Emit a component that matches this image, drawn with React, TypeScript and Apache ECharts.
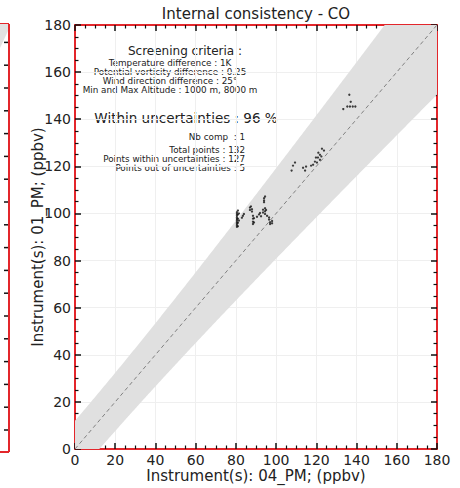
import React, { useEffect, useRef } from "react";
import * as echarts from "echarts";

const FONT = "DejaVu Sans";

// Axis settings
const AXIS_MIN = 0;
const AXIS_MAX = 180;
const AXIS_INTERVAL = 20;

// Uncertainty envelope: y = x ± sqrt(BAND_ABS² + (BAND_REL·x)²)
const BAND_REL = 0.15;
const BAND_ABS = 12;

// Scatter points: x = Instrument 04_PM, y = Instrument 01_PM (ppbv)
const pointsX: number[] = [
  80.5, 80.5, 80.5, 80.5, 80.5, 80.5, 80.5, 80.5, 80.5, 80.5,
  81.0, 81.0, 81.0, 81.0, 81.0, 81.5, 81.5,
  83.0, 83.5, 84.0,
  87.0, 87.0, 87.5, 88.0, 88.0,
  88.5, 88.5, 88.5, 88.5, 89.0, 89.0,
  90.5, 91.5, 92.0, 92.5,
  93.5, 93.5, 94.5, 94.5, 94.5, 95.0, 95.5,
  94.0, 94.0, 94.0, 94.5,
  96.5, 96.5, 97.0, 97.0, 98.0, 98.0,
  107.7, 108.4, 109.4, 113.4, 114.4, 114.9, 117.4, 118.4, 119.3, 120.3,
  119.8, 120.8, 121.8, 121.8, 122.8, 123.8, 121.0, 122.5,
  133.4, 135.4, 136.7, 138.1, 139.4, 137.1, 136.4,
];
const pointsY: number[] = [
  100.5, 99.8, 99.0, 98.3, 97.6, 97.0, 96.3, 95.6, 95.0, 94.3,
  101.2, 99.5, 97.8, 96.0, 94.6, 100.0, 97.0,
  98.2, 99.0, 99.8,
  102.5, 101.5, 103.0, 101.8, 100.8,
  99.0, 97.8, 96.5, 95.5, 98.0, 96.2,
  98.6, 99.6, 100.2, 98.8,
  101.6, 100.4, 102.2, 100.9, 99.8, 101.5, 99.0,
  106.5, 105.5, 104.8, 107.2,
  98.3, 97.4, 96.3, 95.5, 96.8, 95.8,
  118.2, 120.3, 121.6, 119.4, 118.2, 119.9, 120.3, 120.7, 122.0, 121.6,
  123.7, 123.7, 122.8, 124.9, 127.5, 126.7, 125.8, 124.2,
  144.3, 145.4, 145.4, 145.4, 145.4, 147.4, 150.4,
];

const TITLE = "Internal consistency - CO";
const X_NAME = "Instrument(s): 04_PM; (ppbv)";
const Y_NAME = "Instrument(s): 01_PM; (ppbv)";

const criteriaTitle = "Screening criteria :";
const criteriaLines = [
  "Temperature difference : 1K",
  "Potential vorticity difference : 0.25",
  "Wind direction difference : 25°",
  "Min and Max Altitude : 1000 m, 8000 m",
];
const summaryHeadline = "Within uncertainties : 96 %";
const nbCompLine = "Nb comp  : 1";
const summaryLines = [
  "Total points : 132",
  "Points within uncertainties : 127",
  "Points out of uncertainties : 5",
];

const RED = "#e3262b";
const TICK = "#111111";

function makeAxis(pos: string, withLabels: boolean, extra: any = {}) {
  return {
    type: "value",
    min: AXIS_MIN,
    max: AXIS_MAX,
    interval: AXIS_INTERVAL,
    position: pos,
    axisLine: { show: true, onZero: false, lineStyle: { color: RED, width: 2 } },
    axisTick: { show: true, inside: true, length: 6, lineStyle: { color: TICK, width: 1.5 } },
    minorTick: { show: true, splitNumber: 4, length: 3.5, lineStyle: { color: TICK, width: 1.2 } },
    axisLabel: withLabels
      ? { show: true, color: "#222", fontSize: 14, fontFamily: FONT, margin: 4 }
      : { show: false },
    splitLine: withLabels ? { show: true, lineStyle: { color: "#efefef", width: 1 } } : { show: false },
    ...extra,
  };
}

export default function App() {
  const ref = useRef<HTMLDivElement>(null);

  useEffect(() => {
    if (!ref.current) return;
    const chart = echarts.init(ref.current, undefined, { renderer: "svg" });

    const halfWidth = (x: number) => Math.sqrt(BAND_ABS * BAND_ABS + (BAND_REL * x) ** 2);
    const clampY = (y: number) => Math.max(AXIS_MIN, Math.min(AXIS_MAX, y));
    const upper: number[][] = [];
    const lower: number[][] = [];
    for (let x = AXIS_MIN; x <= AXIS_MAX; x += 0.5) {
      upper.push([x, clampY(x + halfWidth(x))]);
      lower.push([x, clampY(x - halfWidth(x))]);
    }
    const bandPolygon = [...upper, ...lower.reverse()];

    const scatterData = pointsX.map((x, i) => [x, pointsY[i]]);

    const textStyle = (size: number, align = "center") => ({
      fill: "#222",
      fontSize: size,
      fontFamily: FONT,
      textAlign: align,
      textVerticalAlign: "middle",
    });

    const LINE_STEP = 9;
    const graphics: any[] = [
      { type: "text", x: 256, y: 14, style: { text: TITLE, ...textStyle(15) } },
      { type: "text", x: 185, y: 51, style: { text: criteriaTitle, ...textStyle(12) } },
      ...criteriaLines.map((t, i) => ({
        type: "text",
        x: 170,
        y: 63 + i * LINE_STEP,
        style: { text: t, ...textStyle(8.8) },
      })),
      { type: "text", x: 186, y: 118, style: { text: summaryHeadline, ...textStyle(13.5) } },
      { type: "text", x: 245, y: 137, style: { text: nbCompLine, ...textStyle(8.8, "right") } },
      ...summaryLines.map((t, i) => ({
        type: "text",
        x: 245,
        y: 150 + i * LINE_STEP,
        style: { text: t, ...textStyle(8.8, "right") },
      })),
      // neighbouring panel fragment on the left edge
      {
        type: "polygon",
        shape: { points: [[0, 24], [8, 24], [8, 31], [0, 48]] },
        style: { fill: "#e2e2e2" },
        z: 1,
      },
      { type: "line", shape: { x1: 9, y1: 24, x2: 9, y2: 452 }, style: { stroke: RED, lineWidth: 2 } },
      { type: "line", shape: { x1: 0, y1: 24, x2: 9, y2: 24 }, style: { stroke: RED, lineWidth: 2 } },
      { type: "line", shape: { x1: 0, y1: 452, x2: 9, y2: 452 }, style: { stroke: RED, lineWidth: 2 } },
    ];
    for (let k = 0; k < 18; k++) {
      const y = 430 - k * 22.8;
      graphics.push({
        type: "line",
        shape: { x1: 4, y1: y, x2: 8, y2: y },
        style: { stroke: TICK, lineWidth: 1.5 },
      });
    }

    chart.setOption({
      animation: false,
      backgroundColor: "#ffffff",
      grid: { left: 75, right: 23, top: 25, bottom: 38, containLabel: false },
      xAxis: [
        makeAxis("bottom", true, {
          name: X_NAME,
          nameLocation: "middle",
          nameGap: 19,
          nameMoveOverlap: false,
          nameTextStyle: { color: "#222", fontSize: 15, fontFamily: FONT },
        }),
        makeAxis("top", false),
      ],
      yAxis: [
        makeAxis("left", true, {
          name: Y_NAME,
          nameLocation: "middle",
          nameGap: 30,
          nameMoveOverlap: false,
          nameTextStyle: { color: "#222", fontSize: 15, fontFamily: FONT },
        }),
        makeAxis("right", false),
      ],
      series: [
        {
          type: "custom",
          xAxisIndex: 0,
          yAxisIndex: 0,
          silent: true,
          z: 1,
          data: [[0, 0]],
          renderItem: (_params: any, api: any) => ({
            type: "polygon",
            shape: { points: bandPolygon.map((p) => api.coord(p)) },
            style: { fill: "#e0e0e0" },
          }),
        },
        {
          type: "line",
          xAxisIndex: 0,
          yAxisIndex: 0,
          data: [
            [AXIS_MIN, AXIS_MIN],
            [AXIS_MAX, AXIS_MAX],
          ],
          symbol: "none",
          silent: true,
          z: 2,
          lineStyle: { color: "#808080", width: 1, type: [4, 3] },
        },
        {
          type: "scatter",
          xAxisIndex: 0,
          yAxisIndex: 0,
          data: scatterData,
          symbol: "circle",
          symbolSize: 2.3,
          z: 3,
          itemStyle: { color: "#111111" },
        },
      ],
      graphic: graphics,
    });

    return () => chart.dispose();
  }, []);

  return (
    <div
      ref={ref}
      style={{ position: "fixed", left: 0, top: 0, width: 460, height: 488, background: "#fff" }}
    />
  );
}
